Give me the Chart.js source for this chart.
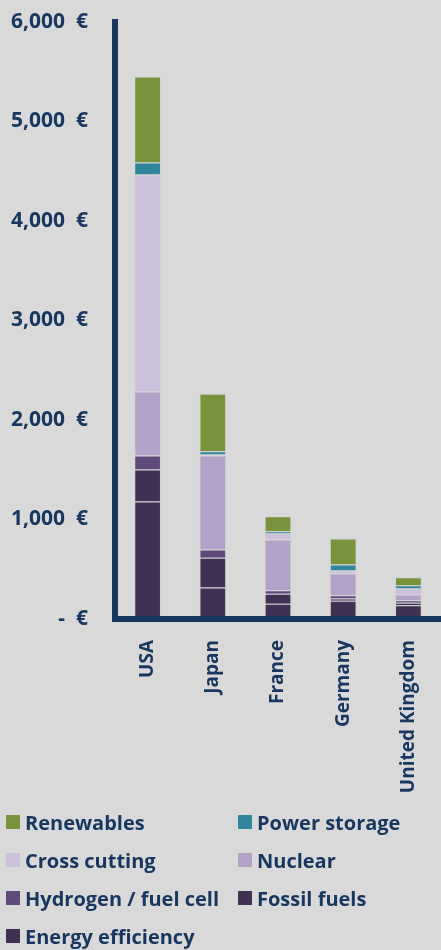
<!DOCTYPE html>
<html>
<head>
<meta charset="utf-8">
<script src="https://cdn.jsdelivr.net/npm/chart.js@4.4.1/dist/chart.umd.min.js"></script>
<style>
  html, body { margin: 0; padding: 0; background: #d9d9d9; overflow: hidden; }
  #wrap { position: relative; width: 441px; height: 950px; }
  #legend {
    position: absolute; left: 6px; top: 803px;
    display: grid; grid-template-columns: 232px 200px; grid-auto-rows: 38px;
    font: bold 20px "Open Sans", sans-serif; color: #17375e;
  }
  #legend .item { display: flex; align-items: center; white-space: nowrap; }
  #legend .box { width: 14px; height: 14px; margin-right: 5px; flex: none; }
</style>
</head>
<body>
<div id="wrap">
  <canvas id="chart" width="441" height="950"></canvas>
  <div id="legend"></div>
</div>
<script>
const categories = ['USA', 'Japan', 'France', 'Germany', 'United Kingdom'];

// stacked bottom to top
const energyEfficiency = [1181, 317, 153, 183, 139];
const fossilFuels      = [322, 298, 100, 23, 24];
const hydrogen         = [140, 83, 36, 33, 26];
const nuclear          = [643, 945, 510, 218, 57];
const crossCutting     = [2181, 10, 60, 30, 61];
const powerStorage     = [121, 33, 23, 61, 33];
const renewables       = [864, 577, 151, 261, 80];

const yTicks = [0, 1000, 2000, 3000, 4000, 5000, 6000];

const navy = '#17375e';
const font = { family: '"Open Sans", sans-serif', size: 20, weight: 'bold' };

const series = [
  { label: 'Energy efficiency', data: energyEfficiency, color: '#3f3151' },
  { label: 'Fossil fuels', data: fossilFuels, color: '#403152' },
  { label: 'Hydrogen / fuel cell', data: hydrogen, color: '#604a7b' },
  { label: 'Nuclear', data: nuclear, color: '#b3a2c7' },
  { label: 'Cross cutting', data: crossCutting, color: '#ccc1da' },
  { label: 'Power storage', data: powerStorage, color: '#31859c' },
  { label: 'Renewables', data: renewables, color: '#77933c' },
];

const chart = new Chart(document.getElementById('chart'), {
  type: 'bar',
  data: {
    labels: categories,
    datasets: series.map(s => ({
      label: s.label,
      data: s.data,
      backgroundColor: s.color,
      borderColor: 'rgba(200,200,210,0.3)',
      borderWidth: 1,
      categoryPercentage: 0.41,
      barPercentage: 1,
    }))
  },
  options: {
    responsive: false,
    devicePixelRatio: 1,
    animation: false,
    layout: { padding: { top: 22, left: 0, right: 0, bottom: 146 } },
    plugins: { legend: { display: false }, tooltip: { enabled: false } },
    scales: {
      x: {
        stacked: true,
        grid: { display: false },
        border: { display: true, color: navy, width: 6, z: 1 },
        ticks: { color: navy, font: { ...font, size: 19 }, minRotation: 90, maxRotation: 90, padding: 13 },
        afterFit: s => { s.height = 185; s.paddingLeft = 0; s.paddingRight = 0; }
      },
      y: {
        stacked: true,
        min: 0,
        max: 6000,
        grid: { display: false },
        border: { display: true, color: navy, width: 6 },
        afterBuildTicks: s => { s.ticks = yTicks.map(v => ({ value: v })); },
        ticks: {
          color: navy,
          font: { ...font, size: 21 },
          padding: 19,
          callback: v => v === 0 ? '-  €' : v.toLocaleString('en-US') + '  €'
        },
        afterFit: s => { s.width = 115; s.paddingTop = 0; s.paddingBottom = 0; }
      }
    }
  }
});

// legend in the reference order (top of stack first)
const legend = document.getElementById('legend');
series.slice().reverse().forEach(s => {
  const item = document.createElement('div');
  item.className = 'item';
  item.innerHTML = '<span class="box" style="background:' + s.color + '"></span>' + s.label;
  legend.appendChild(item);
});
</script>
</body>
</html>
